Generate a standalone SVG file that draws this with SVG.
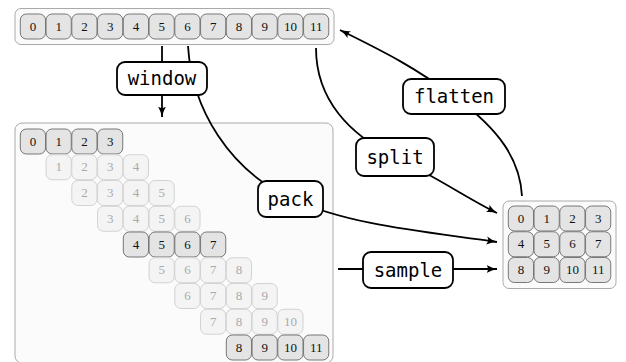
<svg xmlns="http://www.w3.org/2000/svg" width="626" height="362" viewBox="0 0 626 362">
<style>
.box{fill:#fbfbfb;stroke:#aaa;stroke-width:1}
.c{fill:#e4e4e4;stroke:#777;stroke-width:1}
.f{fill:#f4f4f4;stroke:#d2d2d2;stroke-width:1}
.ct{font-family:"Liberation Serif","DejaVu Serif",serif;font-size:13px;text-anchor:middle;fill:#111}
.ft{font-family:"Liberation Serif","DejaVu Serif",serif;font-size:13px;text-anchor:middle;fill:#aaa}
.edge{fill:none;stroke:#000;stroke-width:1.8}
.lb{fill:#fff;stroke:#000;stroke-width:1.8}
.lt{font-family:"DejaVu Sans Mono",monospace;font-size:19px;text-anchor:middle;fill:#000}
</style>
<defs>
<marker id="ar" viewBox="0 0 11 9" refX="10.5" refY="4.5" markerWidth="11" markerHeight="9" markerUnits="userSpaceOnUse" orient="auto">
<path d="M0,0.5 Q5,3.5 11,4.5 Q5,5.5 0,8.5 Q3,4.5 0,0.5 z" fill="#000"/>
</marker>
</defs>

<g id="array">
<rect class="box" x="15" y="8.5" width="319" height="36" rx="6"/>
<g>
<rect class="c" x="20.3" y="14" width="25.2" height="25" rx="6"/><text class="ct" x="32.9" y="30.5">0</text>
<rect class="c" x="46.05" y="14" width="25.2" height="25" rx="6"/><text class="ct" x="58.65" y="30.5">1</text>
<rect class="c" x="71.8" y="14" width="25.2" height="25" rx="6"/><text class="ct" x="84.4" y="30.5">2</text>
<rect class="c" x="97.55" y="14" width="25.2" height="25" rx="6"/><text class="ct" x="110.15" y="30.5">3</text>
<rect class="c" x="123.3" y="14" width="25.2" height="25" rx="6"/><text class="ct" x="135.9" y="30.5">4</text>
<rect class="c" x="149.05" y="14" width="25.2" height="25" rx="6"/><text class="ct" x="161.65" y="30.5">5</text>
<rect class="c" x="174.8" y="14" width="25.2" height="25" rx="6"/><text class="ct" x="187.4" y="30.5">6</text>
<rect class="c" x="200.55" y="14" width="25.2" height="25" rx="6"/><text class="ct" x="213.15" y="30.5">7</text>
<rect class="c" x="226.3" y="14" width="25.2" height="25" rx="6"/><text class="ct" x="238.9" y="30.5">8</text>
<rect class="c" x="252.05" y="14" width="25.2" height="25" rx="6"/><text class="ct" x="264.65" y="30.5">9</text>
<rect class="c" x="277.8" y="14" width="25.2" height="25" rx="6"/><text class="ct" x="290.4" y="30.5">10</text>
<rect class="c" x="303.55" y="14" width="25.2" height="25" rx="6"/><text class="ct" x="316.15" y="30.5">11</text>
</g>
</g>

<g id="windows">
<rect class="box" x="15" y="123" width="318" height="240" rx="7"/>
<g>
<rect class="c" x="20.3" y="129" width="25.2" height="25" rx="6"/><text class="ct" x="32.9" y="145.5">0</text>
<rect class="c" x="46.05" y="129" width="25.2" height="25" rx="6"/><text class="ct" x="58.65" y="145.5">1</text>
<rect class="c" x="71.8" y="129" width="25.2" height="25" rx="6"/><text class="ct" x="84.4" y="145.5">2</text>
<rect class="c" x="97.55" y="129" width="25.2" height="25" rx="6"/><text class="ct" x="110.15" y="145.5">3</text>
</g>
<g>
<rect class="f" x="46.05" y="154.75" width="25.2" height="25" rx="6"/><text class="ft" x="58.65" y="171.25">1</text>
<rect class="f" x="71.8" y="154.75" width="25.2" height="25" rx="6"/><text class="ft" x="84.4" y="171.25">2</text>
<rect class="f" x="97.55" y="154.75" width="25.2" height="25" rx="6"/><text class="ft" x="110.15" y="171.25">3</text>
<rect class="f" x="123.3" y="154.75" width="25.2" height="25" rx="6"/><text class="ft" x="135.9" y="171.25">4</text>
</g>
<g>
<rect class="f" x="71.8" y="180.5" width="25.2" height="25" rx="6"/><text class="ft" x="84.4" y="197">2</text>
<rect class="f" x="97.55" y="180.5" width="25.2" height="25" rx="6"/><text class="ft" x="110.15" y="197">3</text>
<rect class="f" x="123.3" y="180.5" width="25.2" height="25" rx="6"/><text class="ft" x="135.9" y="197">4</text>
<rect class="f" x="149.05" y="180.5" width="25.2" height="25" rx="6"/><text class="ft" x="161.65" y="197">5</text>
</g>
<g>
<rect class="f" x="97.55" y="206.25" width="25.2" height="25" rx="6"/><text class="ft" x="110.15" y="222.75">3</text>
<rect class="f" x="123.3" y="206.25" width="25.2" height="25" rx="6"/><text class="ft" x="135.9" y="222.75">4</text>
<rect class="f" x="149.05" y="206.25" width="25.2" height="25" rx="6"/><text class="ft" x="161.65" y="222.75">5</text>
<rect class="f" x="174.8" y="206.25" width="25.2" height="25" rx="6"/><text class="ft" x="187.4" y="222.75">6</text>
</g>
<g>
<rect class="c" x="123.3" y="232" width="25.2" height="25" rx="6"/><text class="ct" x="135.9" y="248.5">4</text>
<rect class="c" x="149.05" y="232" width="25.2" height="25" rx="6"/><text class="ct" x="161.65" y="248.5">5</text>
<rect class="c" x="174.8" y="232" width="25.2" height="25" rx="6"/><text class="ct" x="187.4" y="248.5">6</text>
<rect class="c" x="200.55" y="232" width="25.2" height="25" rx="6"/><text class="ct" x="213.15" y="248.5">7</text>
</g>
<g>
<rect class="f" x="149.05" y="257.75" width="25.2" height="25" rx="6"/><text class="ft" x="161.65" y="274.25">5</text>
<rect class="f" x="174.8" y="257.75" width="25.2" height="25" rx="6"/><text class="ft" x="187.4" y="274.25">6</text>
<rect class="f" x="200.55" y="257.75" width="25.2" height="25" rx="6"/><text class="ft" x="213.15" y="274.25">7</text>
<rect class="f" x="226.3" y="257.75" width="25.2" height="25" rx="6"/><text class="ft" x="238.9" y="274.25">8</text>
</g>
<g>
<rect class="f" x="174.8" y="283.5" width="25.2" height="25" rx="6"/><text class="ft" x="187.4" y="300">6</text>
<rect class="f" x="200.55" y="283.5" width="25.2" height="25" rx="6"/><text class="ft" x="213.15" y="300">7</text>
<rect class="f" x="226.3" y="283.5" width="25.2" height="25" rx="6"/><text class="ft" x="238.9" y="300">8</text>
<rect class="f" x="252.05" y="283.5" width="25.2" height="25" rx="6"/><text class="ft" x="264.65" y="300">9</text>
</g>
<g>
<rect class="f" x="200.55" y="309.25" width="25.2" height="25" rx="6"/><text class="ft" x="213.15" y="325.75">7</text>
<rect class="f" x="226.3" y="309.25" width="25.2" height="25" rx="6"/><text class="ft" x="238.9" y="325.75">8</text>
<rect class="f" x="252.05" y="309.25" width="25.2" height="25" rx="6"/><text class="ft" x="264.65" y="325.75">9</text>
<rect class="f" x="277.8" y="309.25" width="25.2" height="25" rx="6"/><text class="ft" x="290.4" y="325.75">10</text>
</g>
<g>
<rect class="c" x="226.3" y="335" width="25.2" height="25" rx="6"/><text class="ct" x="238.9" y="351.5">8</text>
<rect class="c" x="252.05" y="335" width="25.2" height="25" rx="6"/><text class="ct" x="264.65" y="351.5">9</text>
<rect class="c" x="277.8" y="335" width="25.2" height="25" rx="6"/><text class="ct" x="290.4" y="351.5">10</text>
<rect class="c" x="303.55" y="335" width="25.2" height="25" rx="6"/><text class="ct" x="316.15" y="351.5">11</text>
</g>
</g>

<g id="grid">
<rect class="box" x="503" y="201" width="113" height="87.5" rx="6"/>
<rect class="c" x="508.3" y="206" width="25.2" height="25" rx="6"/><text class="ct" x="520.9" y="222.5">0</text>
<rect class="c" x="534.05" y="206" width="25.2" height="25" rx="6"/><text class="ct" x="546.65" y="222.5">1</text>
<rect class="c" x="559.8" y="206" width="25.2" height="25" rx="6"/><text class="ct" x="572.4" y="222.5">2</text>
<rect class="c" x="585.55" y="206" width="25.2" height="25" rx="6"/><text class="ct" x="598.15" y="222.5">3</text>
<rect class="c" x="508.3" y="231.75" width="25.2" height="25" rx="6"/><text class="ct" x="520.9" y="248.25">4</text>
<rect class="c" x="534.05" y="231.75" width="25.2" height="25" rx="6"/><text class="ct" x="546.65" y="248.25">5</text>
<rect class="c" x="559.8" y="231.75" width="25.2" height="25" rx="6"/><text class="ct" x="572.4" y="248.25">6</text>
<rect class="c" x="585.55" y="231.75" width="25.2" height="25" rx="6"/><text class="ct" x="598.15" y="248.25">7</text>
<rect class="c" x="508.3" y="257.5" width="25.2" height="25" rx="6"/><text class="ct" x="520.9" y="274">8</text>
<rect class="c" x="534.05" y="257.5" width="25.2" height="25" rx="6"/><text class="ct" x="546.65" y="274">9</text>
<rect class="c" x="559.8" y="257.5" width="25.2" height="25" rx="6"/><text class="ct" x="572.4" y="274">10</text>
<rect class="c" x="585.55" y="257.5" width="25.2" height="25" rx="6"/><text class="ct" x="598.15" y="274">11</text>
</g>

<g id="connectors">
<path class="edge" d="M162,46 L162,117" marker-end="url(#ar)"/>
<path class="edge" d="M188,46 C192,110 230,170 290,198 S430,232 497,242" marker-end="url(#ar)"/>
<path class="edge" d="M316,48 C316,100 350,135 395,157 S470,200 497,213" marker-end="url(#ar)"/>
<path class="edge" d="M522,196 C520,160 500,130 455,97 S380,50 340,30" marker-end="url(#ar)"/>
<path class="edge" d="M338,269 L497,269" marker-end="url(#ar)"/>
</g>

<g id="label-window"><rect class="lb" x="117" y="62" width="90" height="33" rx="8"/><text class="lt" x="162" y="85">window</text></g>
<g id="label-pack"><rect class="lb" x="258" y="181" width="65" height="36" rx="8"/><text class="lt" x="290.5" y="205.5">pack</text></g>
<g id="label-split"><rect class="lb" x="356" y="138" width="78" height="38" rx="8"/><text class="lt" x="395" y="163.5">split</text></g>
<g id="label-flatten"><rect class="lb" x="403" y="79" width="102" height="35" rx="8"/><text class="lt" x="454" y="103">flatten</text></g>
<g id="label-sample"><rect class="lb" x="363" y="252" width="90" height="36" rx="8"/><text class="lt" x="408" y="276.5">sample</text></g>
</svg>
